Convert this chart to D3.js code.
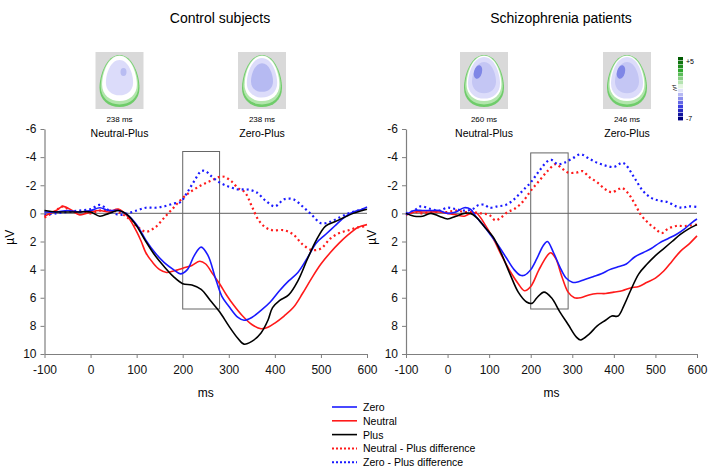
<!DOCTYPE html>
<html lang="en">
<head>
    <meta charset="utf-8">
    <title>ERP waveforms</title>
    <script src="https://d3js.org/d3.v7.min.js"></script>
    <style>
        body { margin: 0; background: #fff; }
        svg { font-family: "Liberation Sans", Arial, sans-serif; }
        .tick text { font-size: 12px; fill: #111; }
        .domain, .tick line { stroke: #7f7f7f; }
    </style>
</head>
<body>
    <div id="chart"></div>
    <script>
        // Values: [ms, µV]
        const xTicks = [-100, 0, 100, 200, 300, 400, 500, 600];
        const yTicks = [-6, -4, -2, 0, 2, 4, 6, 8, 10];
        const panelTitles = ["Control subjects", "Schizophrenia patients"];
        const seriesNames = ["Zero", "Neutral", "Plus", "Neutral - Plus difference", "Zero - Plus difference"];

        const ctrlZero = [[-100,-0.1],[-75,-0.1],[-50,-0.2],[-25,-0.1],[0,-0.2],[20,-0.4],[40,-0.2],[60,-0.2],[80,0.1],[100,0.8],[120,1.9],[140,2.8],[160,3.5],[180,4.0],[195,4.3],[210,4.0],[225,3.0],[240,2.4],[255,3.0],[270,4.5],[285,5.9],[300,6.6],[320,7.4],[333,7.6],[350,7.4],[370,6.9],[390,6.3],[410,5.5],[430,4.8],[450,4.2],[470,3.2],[490,2.1],[510,1.5],[530,0.9],[550,0.3],[570,-0.1],[590,-0.3],[600,-0.45]];
        const ctrlNeutral = [[-100,0.2],[-75,-0.2],[-60,-0.5],[-40,-0.2],[-25,0.1],[-10,0.0],[0,-0.1],[20,-0.2],[40,-0.1],[60,-0.3],[80,0.2],[100,1.3],[110,2.0],[120,2.8],[135,3.5],[150,4.0],[165,4.2],[180,4.1],[200,3.9],[220,3.7],[237,3.4],[250,3.6],[265,4.3],[280,5.0],[295,5.8],[310,6.5],[330,7.3],[350,7.9],[370,8.2],[385,8.1],[400,7.8],[420,7.3],[440,6.7],[460,5.7],[480,4.6],[500,3.6],[520,2.8],[540,2.1],[560,1.5],[580,1.0],[600,0.8]];
        const ctrlPlus = [[-100,-0.2],[-75,-0.1],[-50,-0.1],[-25,-0.1],[0,-0.1],[20,0.2],[40,0.0],[60,-0.2],[80,0.1],[100,0.9],[120,2.0],[140,3.0],[160,3.8],[180,4.5],[200,5.0],[220,5.1],[240,5.4],[260,6.2],[280,7.0],[300,8.0],[320,8.9],[333,9.3],[350,9.1],[370,8.5],[385,7.6],[395,6.7],[410,6.2],[430,5.8],[450,4.8],[470,3.3],[490,1.9],[510,0.9],[530,0.6],[550,0.3],[570,0.0],[590,-0.2],[600,-0.3]];
        const ctrlNeutralDiff = [[-100,0.3],[-75,-0.2],[-60,-0.5],[-40,-0.1],[-20,-0.1],[0,0.0],[20,-0.2],[40,-0.2],[60,-0.1],[80,0.3],[100,0.9],[120,1.3],[140,1.0],[160,0.3],[180,-0.4],[200,-1.1],[220,-1.6],[240,-2.0],[260,-2.3],[280,-2.6],[290,-2.6],[305,-2.3],[320,-1.8],[335,-1.5],[350,-0.5],[365,0.5],[380,1.0],[395,1.2],[420,1.2],[440,1.5],[460,2.2],[480,2.6],[500,2.5],[520,1.8],[540,1.4],[560,1.2],[580,1.0],[600,0.9]];
        const ctrlZeroDiff = [[-100,0.1],[-75,0.0],[-50,-0.1],[-25,-0.2],[0,-0.3],[20,-0.6],[40,-0.2],[60,0.1],[80,0.0],[100,-0.2],[120,-0.4],[140,-0.4],[160,-0.5],[180,-0.7],[195,-0.8],[210,-1.5],[225,-2.3],[240,-3.0],[250,-3.0],[260,-2.7],[280,-2.2],[300,-1.9],[320,-1.7],[340,-1.7],[360,-1.5],[380,-0.9],[400,-0.5],[420,-1.0],[440,-1.0],[460,-0.5],[480,0.1],[500,0.7],[520,0.6],[540,0.3],[560,0.0],[580,-0.2],[600,-0.4]];

        const patZero = [[-100,0.1],[-80,-0.2],[-60,-0.2],[-40,-0.2],[-20,-0.2],[0,0.0],[20,-0.1],[40,-0.4],[55,-0.3],[70,0.3],[85,0.8],[100,1.4],[120,2.2],[140,3.1],[160,4.0],[175,4.4],[185,4.4],[200,4.0],[215,3.2],[230,2.3],[240,2.0],[255,2.8],[270,3.8],[285,4.6],[300,4.9],[310,4.9],[330,4.7],[350,4.5],[370,4.3],[390,4.0],[410,3.8],[430,3.6],[450,3.1],[470,2.8],[490,2.5],[510,2.1],[530,1.8],[550,1.5],[570,1.1],[590,0.6],[600,0.4]];
        const patNeutral = [[-100,0.1],[-80,-0.1],[-60,-0.1],[-40,-0.1],[-20,-0.1],[0,0.0],[20,0.1],[40,0.2],[55,0.0],[70,0.0],[90,0.8],[110,1.8],[130,3.0],[150,4.1],[170,5.0],[185,5.5],[200,5.2],[220,4.0],[240,3.0],[248,2.8],[260,3.2],[275,4.5],[290,5.6],[305,6.0],[320,6.0],[340,5.8],[360,5.7],[380,5.7],[400,5.6],[420,5.5],[440,5.3],[460,5.2],[480,4.9],[500,4.6],[520,4.1],[540,3.4],[560,2.7],[580,2.2],[600,1.6]];
        const patPlus = [[-100,0.0],[-80,0.2],[-60,0.2],[-40,0.0],[-20,0.2],[0,0.4],[20,0.2],[40,0.0],[55,0.0],[70,0.3],[90,1.0],[110,1.7],[130,2.9],[150,4.3],[170,5.6],[190,6.3],[203,6.4],[215,6.0],[232,5.6],[250,6.0],[270,7.0],[290,7.9],[310,8.8],[320,9.0],[340,8.6],[360,8.0],[380,7.6],[395,7.3],[410,7.3],[425,6.5],[440,5.5],[460,4.3],[480,3.6],[500,3.0],[520,2.5],[540,2.0],[560,1.5],[580,1.1],[600,0.8]];
        const patNeutralDiff = [[-100,0.1],[-80,-0.1],[-60,0.0],[-40,-0.1],[-20,-0.1],[0,-0.1],[20,-0.2],[40,-0.1],[60,-0.1],[80,0.0],[100,0.1],[115,0.5],[128,0.3],[145,-0.1],[160,-0.3],[180,-0.8],[200,-1.6],[220,-2.3],[240,-3.0],[260,-3.5],[275,-3.2],[290,-2.9],[310,-2.9],[325,-3.0],[340,-2.6],[360,-2.2],[380,-1.7],[395,-1.5],[410,-1.7],[420,-1.8],[435,-1.4],[450,-0.7],[465,0.1],[480,0.6],[500,1.1],[515,1.4],[530,1.1],[550,0.9],[570,0.9],[600,0.8]];
        const patZeroDiff = [[-100,0.0],[-80,-0.2],[-65,-0.5],[-40,-0.3],[-20,-0.2],[0,-0.4],[20,-0.3],[40,-0.2],[60,-0.3],[75,-0.6],[90,-0.6],[100,-0.4],[120,-0.5],[140,-0.6],[160,-1.0],[180,-1.6],[200,-2.2],[220,-3.0],[240,-3.7],[250,-3.8],[265,-3.5],[280,-3.6],[300,-3.9],[320,-4.2],[340,-3.9],[360,-3.6],[380,-3.4],[400,-3.3],[420,-3.6],[430,-3.4],[450,-2.5],[470,-1.6],[490,-1.1],[510,-0.9],[530,-0.8],[550,-0.5],[565,-0.4],[580,-0.5],[600,-0.45]];

        // highlighted window [ms from, ms to, µV top, µV bottom]
        const ctrlWindow = [200, 280, -4.4, 6.8];
        const patWindow = [200, 290, -4.3, 6.8];

        // topographic maps under each title
        const ctrlMaps = [{ms: "238 ms", label: "Neutral-Plus"}, {ms: "238 ms", label: "Zero-Plus"}];
        const patMaps = [{ms: "260 ms", label: "Neutral-Plus"}, {ms: "246 ms", label: "Zero-Plus"}];

        const W = 709, H = 471;
        const svg = d3.select("#chart").append("svg")
            .attr("width", W).attr("height", H);

        const colors = ["#1a1aff", "#ff1a1a", "#000000", "#ff1a1a", "#1a1aff"];
        const dashed = [false, false, false, true, true];

        const panels = [
            { title: panelTitles[0], x0: 44.5, x1: 367, series: [ctrlZero, ctrlNeutral, ctrlPlus, ctrlNeutralDiff, ctrlZeroDiff], win: ctrlWindow, maps: ctrlMaps, mapX: [119.5, 262], titleX: 220, unitX: 10 },
            { title: panelTitles[1], x0: 406, x1: 697, series: [patZero, patNeutral, patPlus, patNeutralDiff, patZeroDiff], win: patWindow, maps: patMaps, mapX: [484, 627], titleX: 561, unitX: 372 }
        ];

        const yTop = 129, yBot = 354;
        const plain = d => String(d);   // keep ASCII hyphen for negatives

        panels.forEach((p, pi) => {
            const x = d3.scaleLinear().domain([-100, 600]).range([p.x0, p.x1]);
            const y = d3.scaleLinear().domain([-6, 10]).range([yTop, yBot]);
            const g = svg.append("g");

            svg.append("text")
                .attr("x", p.titleX).attr("y", 23)
                .attr("text-anchor", "middle")
                .style("font-size", "14px")
                .text(p.title);

            // axes
            g.append("g")
                .attr("transform", `translate(0,${yBot})`)
                .call(d3.axisBottom(x).tickValues(xTicks).tickFormat(plain).tickSize(4).tickPadding(7).tickSizeOuter(0));
            g.append("g")
                .attr("transform", `translate(${p.x0},0)`)
                .call(d3.axisLeft(y).tickValues(yTicks).tickFormat(plain).tickSize(4).tickPadding(4).tickSizeOuter(0));

            g.selectAll(".domain").attr("stroke-width", 1.2);

            // zero line
            g.append("line")
                .attr("x1", p.x0).attr("x2", p.x1)
                .attr("y1", y(0)).attr("y2", y(0))
                .attr("stroke", "#7f7f7f").attr("stroke-width", 1.2);

            // axis titles
            g.append("text")
                .attr("transform", `translate(${p.unitX + 4},${y(1.7)}) rotate(-90)`)
                .attr("text-anchor", "middle")
                .style("font-size", "12px")
                .text("µV");
            g.append("text")
                .attr("x", (p.x0 + p.x1) / 2).attr("y", 397)
                .attr("text-anchor", "middle")
                .style("font-size", "12px")
                .text("ms");

            // window box
            g.append("rect")
                .attr("x", x(p.win[0])).attr("y", y(p.win[2]))
                .attr("width", x(p.win[1]) - x(p.win[0]))
                .attr("height", y(p.win[3]) - y(p.win[2]))
                .attr("fill", "none").attr("stroke", "#666").attr("stroke-width", 1);

            const line = d3.line()
                .x(d => x(d[0]))
                .y(d => y(d[1]))
                .curve(d3.curveCatmullRom.alpha(0.5));

            // difference curves first, then the raw waveforms on top
            [3, 4, 1, 0, 2].forEach(i => {
                g.append("path")
                    .datum(p.series[i])
                    .attr("d", line)
                    .attr("fill", "none")
                    .attr("stroke", colors[i])
                    .attr("stroke-width", dashed[i] ? 2.2 : 1.6)
                    .attr("stroke-dasharray", dashed[i] ? "2,3" : null);
            });

            // topographic maps
            p.maps.forEach((m, j) => drawHead(p.mapX[j], 80, m, j, pi === 1));
        });

        function headPath(cx, cy) {
            return `M${cx},${cy - 25} C${cx + 13},${cy - 25} ${cx + 20},${cy - 5} ${cx + 20},${cy + 8}
                C${cx + 20},${cy + 20} ${cx + 11},${cy + 27} ${cx},${cy + 27}
                C${cx - 11},${cy + 27} ${cx - 20},${cy + 20} ${cx - 20},${cy + 8}
                C${cx - 20},${cy - 5} ${cx - 13},${cy - 25} ${cx},${cy - 25} Z`;
        }

        function drawHead(cx, cy, m, j, patient) {
            const g = svg.append("g");
            g.append("rect")
                .attr("x", cx - 24).attr("y", cy - 28)
                .attr("width", 48).attr("height", 57)
                .attr("fill", "#d9d9d9");
            const sc = (s, dy) => `translate(${cx},${cy + dy}) scale(${s}) translate(${-cx},${-cy})`;
            g.append("path").attr("d", headPath(cx, cy)).attr("fill", "#6fcc6a");
            g.append("path").attr("d", headPath(cx, cy)).attr("transform", sc(0.94, -1)).attr("fill", "#b2e6ac");
            g.append("path").attr("d", headPath(cx, cy)).attr("transform", sc(0.87, -2.5)).attr("fill", "#ffffff");
            const inner = patient ? 0.8 : (j === 0 ? 0.68 : 0.76);
            g.append("path").attr("d", headPath(cx, cy)).attr("transform", sc(inner, -3)).attr("fill", "#dcdcfa");
            if (patient) {
                g.append("path").attr("d", headPath(cx, cy)).attr("transform", sc(0.6, -3)).attr("fill", "#c4c6f4");
                g.append("ellipse").attr("cx", cx - 6).attr("cy", cy - 8).attr("rx", 4).attr("ry", 7)
                    .attr("transform", `rotate(15,${cx - 6},${cy - 8})`).attr("fill", "#7f86e6");
            } else if (j === 0) {
                g.append("ellipse").attr("cx", cx + 4).attr("cy", cy - 8).attr("rx", 3).attr("ry", 4).attr("fill", "#b8bcf2");
            } else {
                g.append("path").attr("d", headPath(cx, cy)).attr("transform", sc(0.55, -3)).attr("fill", "#b6baf2");
            }
            svg.append("text")
                .attr("x", cx).attr("y", cy + 42)
                .attr("text-anchor", "middle")
                .style("font-size", "8px")
                .text(m.ms);
            svg.append("text")
                .attr("x", cx).attr("y", cy + 57)
                .attr("text-anchor", "middle")
                .style("font-size", "10.5px")
                .text(m.label);
        }

        // colour bar for the maps
        const bar = svg.append("g");
        const barColor = d3.scaleLinear()
            .domain([0, 0.2, 0.45, 0.5, 0.55, 0.8, 1])
            .range(["#005a00", "#2ea82e", "#d6f2d0", "#ffffff", "#d4d6f8", "#3a3ee0", "#000080"]);
        d3.range(16).forEach(k => {
            bar.append("rect")
                .attr("x", 678).attr("y", 57 + k * 4)
                .attr("width", 5).attr("height", 3.4)
                .attr("fill", barColor(k / 15));
        });
        bar.append("text").attr("x", 686).attr("y", 64).style("font-size", "7px").text("+5");
        bar.append("text").attr("x", 686).attr("y", 121).style("font-size", "7px").text("-7");
        bar.append("text")
            .attr("transform", "translate(673,88) rotate(90)")
            .style("font-size", "5px").attr("text-anchor", "middle").text("µV");

        // legend
        const legend = svg.append("g");
        seriesNames.forEach((name, i) => {
            const ly = 407 + i * 13.8;
            legend.append("line")
                .attr("x1", 332).attr("x2", 357)
                .attr("y1", ly).attr("y2", ly)
                .attr("stroke", colors[i])
                .attr("stroke-width", dashed[i] ? 2 : 1.6)
                .attr("stroke-dasharray", dashed[i] ? "2,2" : null);
            legend.append("text")
                .attr("x", 363).attr("y", ly + 4)
                .style("font-size", "10.5px")
                .text(name);
        });
    </script>
</body>
</html>
